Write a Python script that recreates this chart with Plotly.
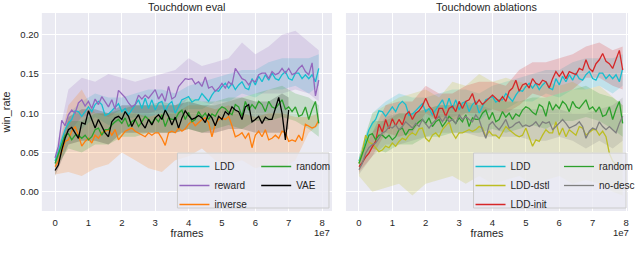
import plotly.graph_objects as go

# ---------------- data ----------------
frames = [i * 1e6 for i in range(80)]          # 0 .. 7.9e7
frames_vae = frames[:71]                       # VAE run stops at 7.0e7

ldd = [0.039, 0.051, 0.066, 0.079, 0.087, 0.092, 0.103, 0.102, 0.096, 0.102,
       0.108, 0.102, 0.111, 0.115, 0.111, 0.097, 0.099, 0.103, 0.108, 0.112,
       0.102, 0.106, 0.098, 0.104, 0.111, 0.117, 0.106, 0.119, 0.106, 0.117,
       0.104, 0.113, 0.115, 0.102, 0.111, 0.115, 0.100, 0.108, 0.117, 0.119,
       0.121, 0.114, 0.117, 0.117, 0.125, 0.120, 0.115, 0.123, 0.129, 0.128,
       0.134, 0.138, 0.132, 0.138, 0.130, 0.136, 0.140, 0.132, 0.130, 0.144,
       0.136, 0.147, 0.140, 0.149, 0.142, 0.151, 0.144, 0.142, 0.149, 0.153,
       0.144, 0.142, 0.151, 0.151, 0.144, 0.149, 0.144, 0.149, 0.140, 0.157]

reward = [0.043, 0.058, 0.091, 0.084, 0.098, 0.104, 0.100, 0.113, 0.117, 0.109,
          0.115, 0.106, 0.118, 0.111, 0.121, 0.114, 0.108, 0.117, 0.105, 0.129,
          0.125, 0.120, 0.113, 0.108, 0.111, 0.123, 0.118, 0.123, 0.119, 0.125,
          0.130, 0.118, 0.125, 0.115, 0.134, 0.118, 0.121, 0.134, 0.139, 0.144,
          0.143, 0.144, 0.137, 0.140, 0.134, 0.146, 0.132, 0.134, 0.128, 0.132,
          0.138, 0.132, 0.140, 0.136, 0.157, 0.151, 0.144, 0.142, 0.136, 0.142,
          0.140, 0.149, 0.151, 0.151, 0.144, 0.153, 0.149, 0.151, 0.157, 0.151,
          0.157, 0.149, 0.151, 0.157, 0.161, 0.153, 0.149, 0.164, 0.122, 0.142]

inverse = [0.032, 0.039, 0.051, 0.064, 0.066, 0.077, 0.083, 0.072, 0.058, 0.064,
           0.068, 0.062, 0.072, 0.068, 0.075, 0.077, 0.079, 0.072, 0.079, 0.066,
           0.072, 0.077, 0.079, 0.081, 0.077, 0.075, 0.072, 0.070, 0.075, 0.072,
           0.075, 0.075, 0.068, 0.059, 0.075, 0.077, 0.075, 0.081, 0.077, 0.080,
           0.086, 0.090, 0.084, 0.088, 0.092, 0.094, 0.088, 0.070, 0.086, 0.092,
           0.094, 0.092, 0.096, 0.084, 0.070, 0.072, 0.075, 0.068, 0.075, 0.056,
           0.072, 0.077, 0.070, 0.079, 0.066, 0.068, 0.072, 0.068, 0.077, 0.075,
           0.064, 0.066, 0.064, 0.072, 0.065, 0.086, 0.083, 0.081, 0.083, 0.091]

random_ = [0.036, 0.049, 0.062, 0.072, 0.074, 0.066, 0.072, 0.072, 0.068, 0.072,
           0.066, 0.070, 0.079, 0.081, 0.072, 0.079, 0.079, 0.085, 0.089, 0.092,
           0.087, 0.094, 0.083, 0.089, 0.092, 0.083, 0.089, 0.096, 0.092, 0.087,
           0.094, 0.089, 0.098, 0.083, 0.094, 0.092, 0.092, 0.100, 0.104, 0.092,
           0.101, 0.089, 0.092, 0.102, 0.095, 0.100, 0.092, 0.099, 0.096, 0.104,
           0.108, 0.106, 0.101, 0.098, 0.111, 0.108, 0.096, 0.115, 0.104, 0.111,
           0.106, 0.115, 0.111, 0.102, 0.115, 0.108, 0.106, 0.111, 0.117, 0.105,
           0.108, 0.102, 0.108, 0.096, 0.098, 0.108, 0.092, 0.105, 0.115, 0.087]

vae = [0.027, 0.034, 0.053, 0.068, 0.079, 0.082, 0.075, 0.068, 0.088, 0.086,
       0.103, 0.092, 0.081, 0.092, 0.083, 0.075, 0.070, 0.089, 0.094, 0.096,
       0.092, 0.102, 0.096, 0.083, 0.092, 0.098, 0.087, 0.081, 0.092, 0.085,
       0.094, 0.098, 0.092, 0.104, 0.096, 0.085, 0.095, 0.081, 0.094, 0.103,
       0.097, 0.092, 0.094, 0.097, 0.094, 0.088, 0.099, 0.094, 0.084, 0.096,
       0.092, 0.102, 0.098, 0.108, 0.104, 0.102, 0.092, 0.108, 0.111, 0.089,
       0.092, 0.096, 0.087, 0.095, 0.092, 0.092, 0.106, 0.120, 0.100, 0.066,
       0.104]

ldd_dstl = [0.036, 0.051, 0.072, 0.063, 0.061, 0.056, 0.051, 0.053, 0.058, 0.056,
            0.062, 0.058, 0.064, 0.068, 0.066, 0.072, 0.075, 0.072, 0.080, 0.081,
            0.068, 0.064, 0.072, 0.075, 0.070, 0.079, 0.084, 0.089, 0.075, 0.068,
            0.075, 0.075, 0.077, 0.079, 0.077, 0.079, 0.083, 0.081, 0.070, 0.077,
            0.072, 0.072, 0.068, 0.075, 0.083, 0.079, 0.075, 0.072, 0.070, 0.072,
            0.081, 0.068, 0.058, 0.066, 0.064, 0.072, 0.079, 0.075, 0.075, 0.089,
            0.072, 0.081, 0.070, 0.079, 0.075, 0.072, 0.083, 0.081, 0.072, 0.075,
            0.079, 0.079, 0.072, 0.077, 0.070, 0.049, 0.039, 0.035, 0.033, 0.032]

ldd_init = [0.032, 0.037, 0.044, 0.049, 0.057, 0.064, 0.086, 0.076, 0.092, 0.080,
            0.093, 0.084, 0.092, 0.085, 0.098, 0.102, 0.092, 0.100, 0.103, 0.109,
            0.119, 0.109, 0.104, 0.092, 0.106, 0.106, 0.096, 0.106, 0.109, 0.102,
            0.115, 0.106, 0.115, 0.117, 0.125, 0.111, 0.117, 0.111, 0.115, 0.119,
            0.123, 0.119, 0.115, 0.121, 0.115, 0.128, 0.132, 0.142, 0.128, 0.136,
            0.138, 0.132, 0.144, 0.138, 0.136, 0.142, 0.140, 0.132, 0.144, 0.153,
            0.147, 0.153, 0.144, 0.153, 0.151, 0.149, 0.157, 0.155, 0.168, 0.157,
            0.153, 0.163, 0.168, 0.176, 0.166, 0.163, 0.157, 0.168, 0.180, 0.155]

no_desc = [0.028, 0.036, 0.049, 0.056, 0.060, 0.062, 0.068, 0.075, 0.077, 0.083,
           0.081, 0.085, 0.079, 0.083, 0.089, 0.085, 0.081, 0.087, 0.083, 0.092,
           0.087, 0.081, 0.087, 0.092, 0.096, 0.089, 0.096, 0.089, 0.092, 0.087,
           0.098, 0.092, 0.096, 0.092, 0.089, 0.098, 0.092, 0.079, 0.068, 0.085,
           0.089, 0.083, 0.079, 0.085, 0.092, 0.081, 0.083, 0.087, 0.089, 0.083,
           0.085, 0.083, 0.085, 0.089, 0.083, 0.089, 0.087, 0.089, 0.079, 0.083,
           0.087, 0.092, 0.087, 0.081, 0.083, 0.085, 0.089, 0.083, 0.068, 0.077,
           0.081, 0.079, 0.089, 0.083, 0.079, 0.083, 0.079, 0.075, 0.087, 0.096]

# shaded spread (lower / upper edges), read at coarser frame positions
band_frames = [v * 1e6 for v in [0, 4, 8, 12, 16, 20, 24, 28, 32, 36, 40,
                                 44, 48, 52, 56, 60, 64, 68, 72, 76, 79]]
band_frames_vae = [v * 1e6 for v in [0, 4, 8, 12, 16, 20, 24, 28, 32, 36, 40,
                                     44, 48, 52, 56, 60, 64, 68, 70]]

ldd_lo = [0.033, 0.075, 0.080, 0.095, 0.085, 0.090, 0.095, 0.095, 0.100, 0.090, 0.105,
          0.105, 0.115, 0.115, 0.125, 0.120, 0.130, 0.130, 0.135, 0.125, 0.135]
ldd_hi = [0.045, 0.100, 0.115, 0.125, 0.120, 0.120, 0.125, 0.130, 0.130, 0.125, 0.135,
          0.140, 0.145, 0.150, 0.155, 0.155, 0.165, 0.170, 0.170, 0.170, 0.175]
reward_lo = [0.038, 0.075, 0.095, 0.100, 0.095, 0.105, 0.100, 0.100, 0.105, 0.100, 0.120,
             0.115, 0.110, 0.115, 0.120, 0.125, 0.125, 0.125, 0.130, 0.125, 0.115]
reward_hi = [0.048, 0.130, 0.145, 0.140, 0.150, 0.145, 0.140, 0.145, 0.150, 0.155, 0.170,
             0.160, 0.165, 0.170, 0.190, 0.175, 0.185, 0.200, 0.205, 0.190, 0.180]
inverse_lo = [0.022, 0.025, 0.020, 0.030, 0.035, 0.050, 0.040, 0.030, 0.025, 0.040, 0.045,
              0.055, 0.040, 0.035, 0.040, 0.030, 0.035, 0.030, 0.040, 0.075, 0.085]
inverse_hi = [0.040, 0.110, 0.130, 0.100, 0.100, 0.100, 0.100, 0.095, 0.100, 0.100, 0.110,
              0.110, 0.105, 0.110, 0.100, 0.095, 0.100, 0.100, 0.095, 0.095, 0.100]
random_lo = [0.030, 0.055, 0.050, 0.060, 0.060, 0.070, 0.070, 0.075, 0.075, 0.075, 0.080,
             0.075, 0.080, 0.085, 0.080, 0.090, 0.090, 0.095, 0.090, 0.080, 0.070]
random_hi = [0.042, 0.090, 0.090, 0.100, 0.100, 0.105, 0.110, 0.110, 0.115, 0.110, 0.120,
             0.115, 0.115, 0.120, 0.120, 0.125, 0.130, 0.135, 0.125, 0.120, 0.110]
vae_lo = [0.020, 0.060, 0.065, 0.065, 0.060, 0.075, 0.075, 0.075, 0.075, 0.075,
          0.080, 0.075, 0.075, 0.080, 0.080, 0.075, 0.075, 0.075, 0.080]
vae_hi = [0.033, 0.095, 0.105, 0.105, 0.100, 0.110, 0.110, 0.110, 0.110, 0.110,
          0.115, 0.110, 0.110, 0.115, 0.120, 0.115, 0.115, 0.125, 0.120]
dstl_lo = [0.020, 0.000, 0.005, 0.010, -0.005, 0.010, 0.015, 0.020, 0.010, 0.020, 0.010,
           0.015, 0.020, 0.010, 0.015, 0.020, 0.010, 0.015, 0.010, 0.000, -0.005]
dstl_hi = [0.045, 0.100, 0.110, 0.120, 0.125, 0.130, 0.120, 0.140, 0.135, 0.150, 0.140,
           0.145, 0.140, 0.135, 0.140, 0.135, 0.140, 0.130, 0.135, 0.120, 0.110]
init_lo = [0.025, 0.045, 0.075, 0.070, 0.075, 0.100, 0.090, 0.090, 0.100, 0.100, 0.105,
           0.100, 0.110, 0.125, 0.120, 0.125, 0.130, 0.145, 0.145, 0.135, 0.130]
init_hi = [0.040, 0.075, 0.110, 0.115, 0.115, 0.135, 0.125, 0.125, 0.135, 0.140, 0.140,
           0.135, 0.155, 0.165, 0.165, 0.170, 0.175, 0.185, 0.190, 0.180, 0.185]
nodesc_lo = [0.022, 0.045, 0.060, 0.060, 0.065, 0.070, 0.075, 0.075, 0.075, 0.070, 0.070,
             0.070, 0.070, 0.065, 0.065, 0.070, 0.065, 0.055, 0.065, 0.055, 0.065]
nodesc_hi = [0.035, 0.075, 0.095, 0.100, 0.100, 0.105, 0.110, 0.110, 0.110, 0.110, 0.105,
             0.105, 0.105, 0.105, 0.105, 0.105, 0.100, 0.100, 0.105, 0.110, 0.120]

x_ticks = [0, 1e7, 2e7, 3e7, 4e7, 5e7, 6e7, 7e7, 8e7]
x_tick_text = ["0", "1", "2", "3", "4", "5", "6", "7", "8"]
y_ticks = [0.0, 0.05, 0.10, 0.15, 0.20]
y_tick_text = ["0.00", "0.05", "0.10", "0.15", "0.20"]

# ---------------- styling ----------------
COL = {
    "LDD": "#17becf", "reward": "#9467bd", "inverse": "#ff7f0e",
    "random": "#2ca02c", "VAE": "#000000", "LDD-dstl": "#bcbd22",
    "LDD-init": "#d62728", "no-desc": "#7f7f7f",
}
TXT = "#262626"
FONT = "Liberation Sans, Arial, sans-serif"
W, H = 640, 257
TICK_SIZE = 9.5
LABEL_SIZE = 10.8
LEG_SIZE = 10


def rgba(hexc, a):
    h = hexc.lstrip("#")
    return "rgba(%d,%d,%d,%s)" % (int(h[0:2], 16), int(h[2:4], 16), int(h[4:6], 16), a)


def px_x(p):
    return p / W


def px_y(p):
    return 1 - p / H


fig = go.Figure()


def add_band(bx, lo, hi, color, xa, ya, alpha=0.2):
    fig.add_trace(go.Scatter(
        x=list(bx) + list(bx)[::-1], y=list(hi) + list(lo)[::-1],
        fill="toself", fillcolor=rgba(color, alpha), line=dict(width=0),
        mode="lines", hoverinfo="skip", showlegend=False, xaxis=xa, yaxis=ya))


def add_line(x, y, name, xa, ya, legend):
    fig.add_trace(go.Scatter(
        x=x, y=y, name=name, mode="lines",
        line=dict(color=COL[name], width=1.3),
        xaxis=xa, yaxis=ya, legend=legend))


# left panel: Touchdown eval
add_band(band_frames, ldd_lo, ldd_hi, COL["LDD"], "x", "y")
add_band(band_frames, reward_lo, reward_hi, COL["reward"], "x", "y")
add_band(band_frames, inverse_lo, inverse_hi, COL["inverse"], "x", "y")
add_band(band_frames, random_lo, random_hi, COL["random"], "x", "y")
add_band(band_frames_vae, vae_lo, vae_hi, COL["VAE"], "x", "y", 0.18)
add_line(frames, ldd, "LDD", "x", "y", "legend")
add_line(frames, reward, "reward", "x", "y", "legend")
add_line(frames, inverse, "inverse", "x", "y", "legend")
add_line(frames, random_, "random", "x", "y", "legend2")
add_line(frames_vae, vae, "VAE", "x", "y", "legend2")

# right panel: Touchdown ablations
add_band(band_frames, ldd_lo, ldd_hi, COL["LDD"], "x2", "y2")
add_band(band_frames, dstl_lo, dstl_hi, COL["LDD-dstl"], "x2", "y2")
add_band(band_frames, init_lo, init_hi, COL["LDD-init"], "x2", "y2")
add_band(band_frames, random_lo, random_hi, COL["random"], "x2", "y2")
add_band(band_frames, nodesc_lo, nodesc_hi, COL["no-desc"], "x2", "y2")
add_line(frames, ldd, "LDD", "x2", "y2", "legend3")
add_line(frames, ldd_dstl, "LDD-dstl", "x2", "y2", "legend3")
add_line(frames, ldd_init, "LDD-init", "x2", "y2", "legend3")
add_line(frames, random_, "random", "x2", "y2", "legend4")
add_line(frames, no_desc, "no-desc", "x2", "y2", "legend4")

axis_common = dict(
    showgrid=True, gridcolor="white", gridwidth=1.2, zeroline=False,
    showline=False, ticks="", ticklen=0, automargin=False,
    tickfont=dict(family=FONT, size=TICK_SIZE, color=TXT),
)

x_left = [px_x(42), px_x(333)]
x_right = [px_x(347), px_x(630)]
y_dom = [px_y(211), px_y(13)]
y_range = [-0.0246, 0.2276]

legend_common = dict(
    orientation="v", xanchor="left", yanchor="top",
    bgcolor="rgba(0,0,0,0)", borderwidth=0, tracegroupgap=0,
    font=dict(family=FONT, size=LEG_SIZE, color=TXT), itemwidth=30,
)
leg_top = px_y(152)

fig.update_layout(
    width=W, height=H,
    margin=dict(l=0, r=0, t=0, b=0),
    paper_bgcolor="white", plot_bgcolor="#EAEAF2",
    font=dict(family=FONT, size=TICK_SIZE, color=TXT),
    xaxis=dict(domain=x_left, range=[-0.395e7, 8.295e7], tickvals=x_ticks,
               ticktext=x_tick_text, anchor="y", ticklabelstandoff=4,
               title=dict(text="frames", standoff=2,
                          font=dict(family=FONT, size=LABEL_SIZE, color=TXT)),
               **axis_common),
    yaxis=dict(domain=y_dom, range=y_range, tickvals=y_ticks,
               ticktext=y_tick_text, anchor="x", ticklabelstandoff=2,
               title=dict(text="win_rate", standoff=8,
                          font=dict(family=FONT, size=LABEL_SIZE, color=TXT)),
               **axis_common),
    xaxis2=dict(domain=x_right, range=[-0.39e7, 8.06e7], tickvals=x_ticks,
                ticktext=x_tick_text, anchor="y2", ticklabelstandoff=4,
                title=dict(text="frames", standoff=2,
                           font=dict(family=FONT, size=LABEL_SIZE, color=TXT)),
                **axis_common),
    yaxis2=dict(domain=y_dom, range=y_range, tickvals=y_ticks,
                showticklabels=False, anchor="x2", matches="y",
                **axis_common),
    legend=dict(x=px_x(175), y=leg_top, **legend_common),
    legend2=dict(x=px_x(257), y=leg_top, **legend_common),
    legend3=dict(x=px_x(472), y=leg_top, **legend_common),
    legend4=dict(x=px_x(561), y=leg_top, **legend_common),
    shapes=[
        dict(type="rect", xref="paper", yref="paper", layer="above",
             x0=px_x(178), x1=px_x(330), y0=px_y(208), y1=px_y(153),
             fillcolor="rgba(234,234,242,0.8)", line=dict(color="#cccccc", width=1)),
        dict(type="rect", xref="paper", yref="paper", layer="above",
             x0=px_x(475), x1=px_x(628), y0=px_y(208), y1=px_y(153),
             fillcolor="rgba(234,234,242,0.8)", line=dict(color="#cccccc", width=1)),
    ],
    annotations=[
        dict(text="Touchdown eval", xref="x domain", yref="paper", x=0.5, y=1.0,
             xanchor="center", yanchor="top", showarrow=False, yshift=1,
             font=dict(family=FONT, size=LABEL_SIZE, color=TXT)),
        dict(text="Touchdown ablations", xref="x2 domain", yref="paper", x=0.5, y=1.0,
             xanchor="center", yanchor="top", showarrow=False, yshift=1,
             font=dict(family=FONT, size=LABEL_SIZE, color=TXT)),
        dict(text="1e7", xref="x domain", yref="paper", x=1.0, y=px_y(232.5),
             xanchor="right", yanchor="middle", showarrow=False,
             font=dict(family=FONT, size=TICK_SIZE, color=TXT)),
        dict(text="1e7", xref="x2 domain", yref="paper", x=1.01, y=px_y(232.5),
             xanchor="right", yanchor="middle", showarrow=False,
             font=dict(family=FONT, size=TICK_SIZE, color=TXT)),
    ],
)

fig.write_html("out.html", config={"displayModeBar": False},
               post_script="document.body.style.margin='0px';")
